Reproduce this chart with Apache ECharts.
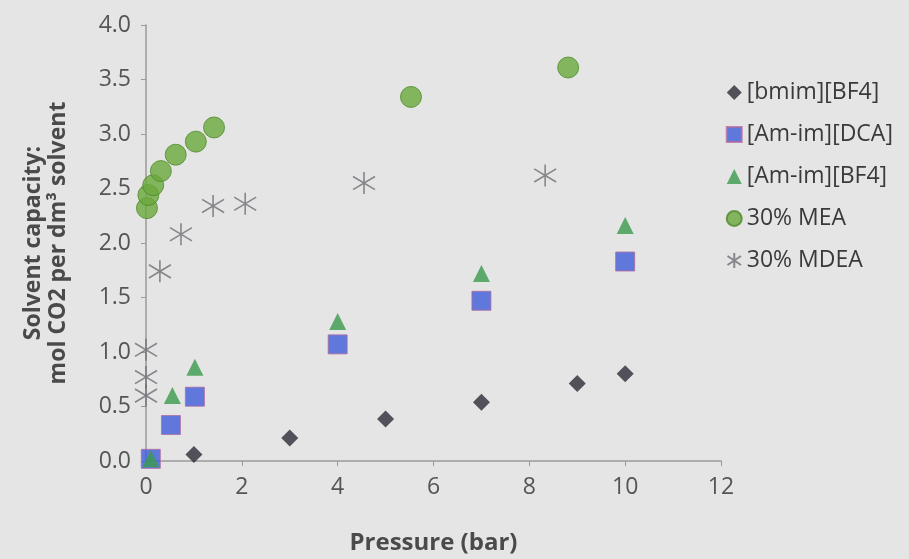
<!DOCTYPE html>
<html><head><meta charset="utf-8">
<script src="https://cdn.jsdelivr.net/npm/echarts@6/dist/echarts.min.js"></script>
<style>html,body{margin:0;padding:0;background:#e5e5e5}#c{width:909px;height:559px}</style>
</head><body><div id="c"></div>
<script>
const seriesNames = ['[bmim][BF4]', '[Am-im][DCA]', '[Am-im][BF4]', '30% MEA', '30% MDEA'];
const bmimBF4 = [[1,0.06],[3,0.21],[5,0.385],[7,0.54],[9,0.71],[10,0.80]];
const amimDCA = [[0.1,0.02],[0.52,0.33],[1.02,0.59],[4,1.07],[7,1.47],[10,1.83]];
const amimBF4 = [[0.1,0.02],[0.55,0.60],[1.02,0.86],[4,1.28],[7,1.72],[10,2.16]];
const mea30 = [[0.02,2.32],[0.05,2.44],[0.15,2.53],[0.31,2.66],[0.62,2.81],[1.04,2.93],[1.42,3.06],[5.53,3.34],[8.81,3.61]];
const mdea30 = [[0,0.6],[0,0.77],[0,1.02],[0.29,1.74],[0.73,2.08],[1.4,2.34],[2.07,2.36],[4.55,2.55],[8.33,2.62]];
const xTicks = {min:0, max:12, interval:2};
const yTicks = {min:0, max:4, interval:0.5};

const FONT = '"Open Sans", Lato, sans-serif';
const starPath = 'path://M0,-10L0,10M-9,-6L9,6M-9,6L9,-6';
const chart = echarts.init(document.getElementById('c'));
chart.setOption({
  backgroundColor: '#e5e5e5',
  animation: false,
  grid: {left:146, right:188, top:25, bottom:98, outerBoundsMode:'none', containLabel:false},
  legend: {
    orient:'vertical', left:720, top:76, itemGap:19, itemWidth:15, itemHeight:15,
    textStyle:{fontSize:23, lineHeight:23, color:'#3a3a3a', fontFamily:FONT},
    data: seriesNames.map(n => ({name:n}))
  },
  xAxis: {
    type:'value', min:xTicks.min, max:xTicks.max, interval:xTicks.interval,
    name:'Pressure (bar)', nameLocation:'middle', nameGap:70,
    nameTextStyle:{fontSize:24, color:'#4a4a4a', fontFamily:FONT, fontWeight:'bold'},
    axisLine:{lineStyle:{color:'#9a9a9a', width:1.5}},
    axisTick:{show:true, length:5, lineStyle:{color:'#9a9a9a'}},
    axisLabel:{fontSize:23, color:'#555', fontFamily:FONT, margin:15},
    splitLine:{show:false}
  },
  yAxis: {
    type:'value', min:yTicks.min, max:yTicks.max, interval:yTicks.interval,
    name:'Solvent capacity:\nmol CO2 per dm³ solvent', nameLocation:'middle', nameGap:75,
    nameTextStyle:{fontSize:23, color:'#4a4a4a', fontFamily:FONT, fontWeight:'bold', lineHeight:25},
    axisLine:{show:true, lineStyle:{color:'#9a9a9a', width:1.5}},
    axisTick:{show:true, length:5, lineStyle:{color:'#9a9a9a'}},
    axisLabel:{fontSize:23, color:'#555', fontFamily:FONT, margin:15, formatter:v=>v.toFixed(1)},
    splitLine:{show:false}
  },
  series: [
    {name:seriesNames[0], type:'scatter', data:bmimBF4, symbol:'diamond', symbolSize:17,
     itemStyle:{color:'#2c2c36'}},
    {name:seriesNames[1], type:'scatter', data:amimDCA, symbol:'rect', symbolSize:19,
     itemStyle:{color:'#3e5cd8', borderColor:'#b06ca0', borderWidth:1}},
    {name:seriesNames[2], type:'scatter', data:amimBF4, symbol:'triangle', symbolSize:17,
     itemStyle:{color:'#3a9a4c'}},
    {name:seriesNames[3], type:'scatter', data:mea30, symbol:'circle', symbolSize:21,
     itemStyle:{color:'#6aa83c', borderColor:'#4f8a2c', borderWidth:1}},
    {name:seriesNames[4], type:'scatter', data:mdea30, symbol:starPath, symbolSize:22,
     itemStyle:{color:'none', borderColor:'#6e6e74', borderWidth:1.6}}
  ]
});
</script></body></html>
